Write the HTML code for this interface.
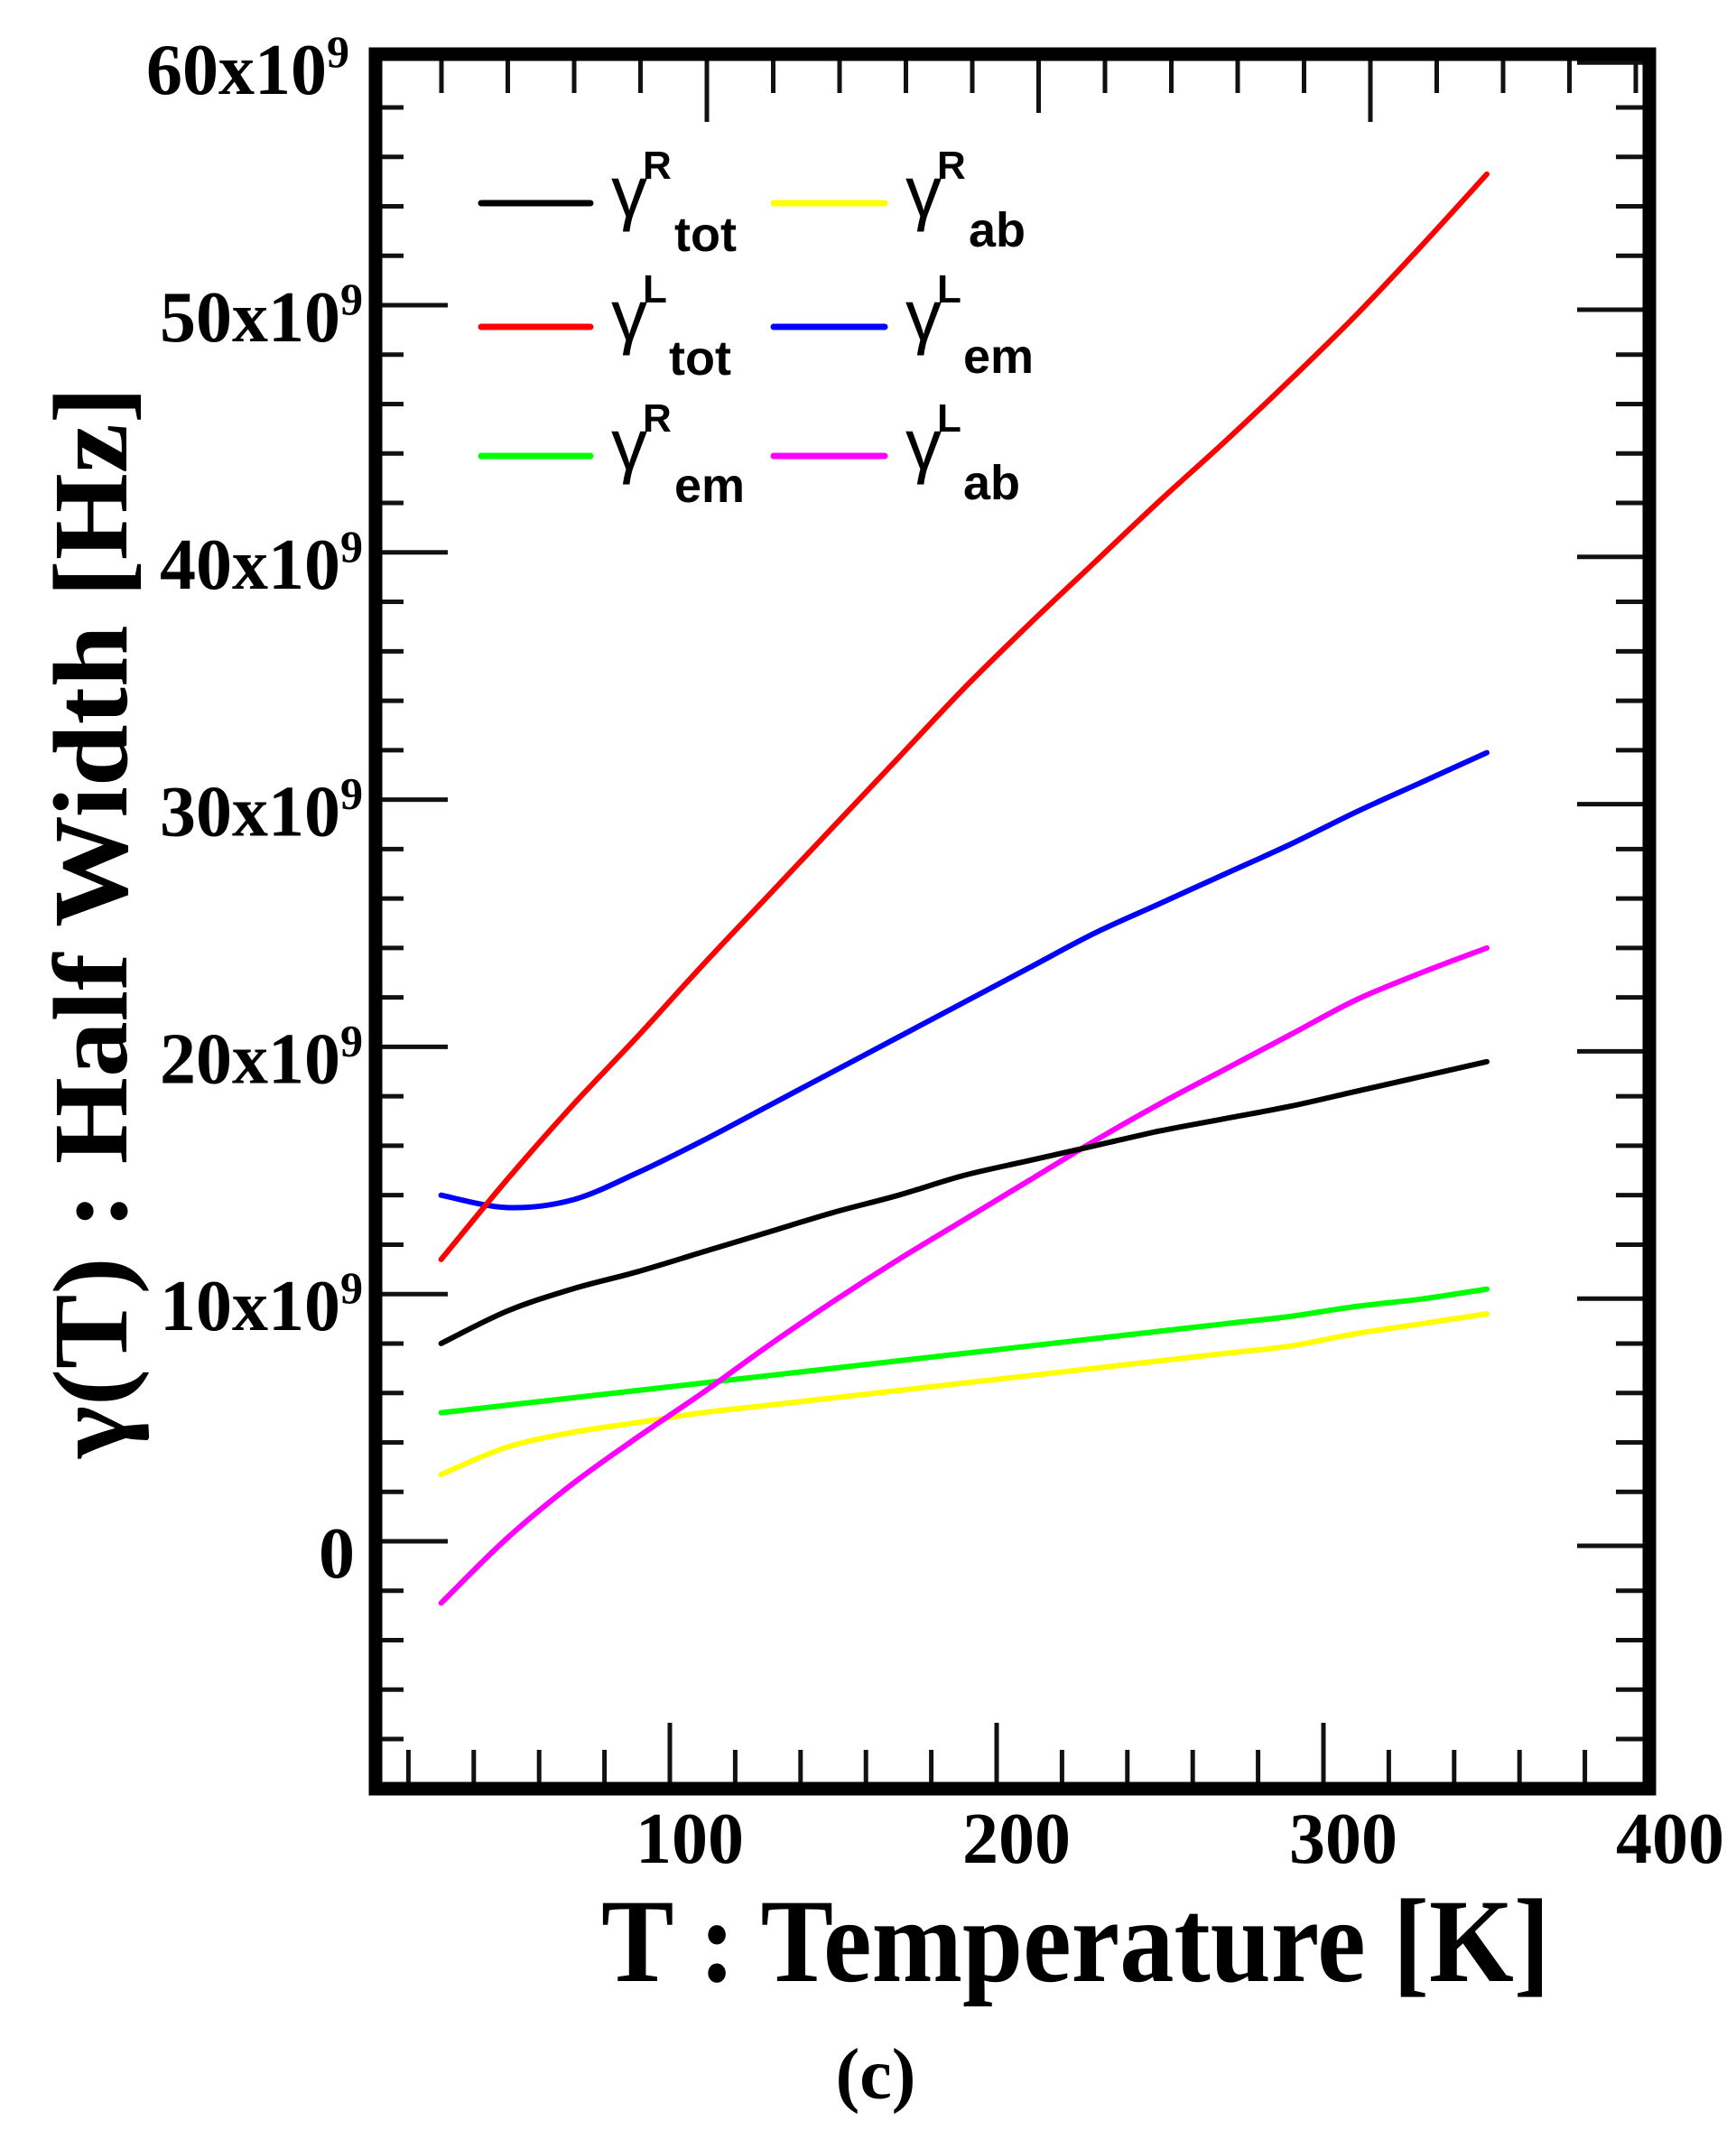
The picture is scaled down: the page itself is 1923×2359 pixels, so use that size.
<!DOCTYPE html>
<html><head><meta charset="utf-8"><style>
html,body{margin:0;padding:0;background:#fff;}
svg{display:block;}
.tl{font-family:"Liberation Serif",serif;font-weight:bold;font-size:80px;fill:#000;}
.lg{font-family:"Liberation Sans",sans-serif;font-weight:bold;fill:#000;}
.gm{font-family:"Liberation Sans",sans-serif;font-weight:normal;fill:#000;}
</style></head><body>
<svg id="chart" width="1923" height="2359" viewBox="0 0 1923 2359" xmlns="http://www.w3.org/2000/svg">
<g id="ticks" stroke="#111" stroke-width="5"></g>
<g id="frame" fill="none" stroke="#000" stroke-width="15">
<rect x="416" y="60" width="1411" height="1921"/>
</g>
<g id="ylabels"></g>
<g id="xlabels"></g>
<g id="series" fill="none" stroke-width="6" stroke-linejoin="round" stroke-linecap="round"></g>
<g>
 <line x1="533" y1="225" x2="654" y2="225" stroke="#000" stroke-width="7" stroke-linecap="round"/>
 <text class="gm" x="677" y="240" font-size="80">γ</text><text class="lg" x="712" y="198" font-size="44">R</text><text class="lg" x="747" y="278" font-size="54">tot</text>
 <line x1="857" y1="225" x2="980" y2="225" stroke="#ffff00" stroke-width="7" stroke-linecap="round"/>
 <text class="gm" x="1003" y="240" font-size="80">γ</text><text class="lg" x="1038" y="198" font-size="44">R</text><text class="lg" x="1073" y="273" font-size="54">ab</text>
 <line x1="533" y1="362" x2="654" y2="362" stroke="#ff0000" stroke-width="7" stroke-linecap="round"/>
 <text class="gm" x="677" y="377" font-size="80">γ</text><text class="lg" x="712" y="335" font-size="44">L</text><text class="lg" x="741" y="415" font-size="54">tot</text>
 <line x1="857" y1="362" x2="980" y2="362" stroke="#0000ff" stroke-width="7" stroke-linecap="round"/>
 <text class="gm" x="1003" y="377" font-size="80">γ</text><text class="lg" x="1038" y="335" font-size="44">L</text><text class="lg" x="1067" y="413" font-size="54">em</text>
 <line x1="533" y1="505" x2="654" y2="505" stroke="#00ff00" stroke-width="7" stroke-linecap="round"/>
 <text class="gm" x="677" y="520" font-size="80">γ</text><text class="lg" x="712" y="478" font-size="44">R</text><text class="lg" x="747" y="556" font-size="54">em</text>
 <line x1="857" y1="505" x2="980" y2="505" stroke="#ff00ff" stroke-width="7" stroke-linecap="round"/>
 <text class="gm" x="1003" y="520" font-size="80">γ</text><text class="lg" x="1038" y="478" font-size="44">L</text><text class="lg" x="1067" y="553" font-size="54">ab</text>
</g>
<text x="666" y="2194" font-family="Liberation Serif,serif" font-weight="bold" font-size="132" textLength="1051" lengthAdjust="spacingAndGlyphs">T : Temperature [K]</text>
<text transform="translate(140,1615) rotate(-90)" x="0" y="0" font-family="Liberation Serif,serif" font-weight="bold" font-size="118" textLength="1187" lengthAdjust="spacingAndGlyphs">γ(T) :  Half Width [Hz]</text>
<text x="970" y="2324" text-anchor="middle" font-family="Liberation Serif,serif" font-weight="bold" font-size="80">(c)</text>
</svg>
<script>
const temps=[30,50,70,90,110,130,150,170,190,210,230,250,270,290,310,330,350];
const gRtot=[8.0,9.3,10.2,10.9,11.7,12.5,13.3,14.0,14.8,15.4,16.0,16.6,17.1,17.6,18.2,18.8,19.4];
const gLtot=[11.4,14.6,17.6,20.4,23.3,26.1,28.9,31.7,34.5,37.1,39.6,42.1,44.5,47.0,49.6,52.4,55.3];
const gRem=[5.2,5.5,5.8,6.1,6.4,6.7,7.0,7.3,7.6,7.9,8.2,8.5,8.8,9.1,9.5,9.8,10.2];
const gRab=[2.7,3.8,4.4,4.8,5.2,5.5,5.8,6.1,6.4,6.7,7.0,7.3,7.6,7.9,8.4,8.8,9.2];
const gLem=[14.0,13.5,13.8,14.9,16.2,17.6,19.0,20.4,21.8,23.2,24.6,25.8,27.0,28.2,29.5,30.7,31.9];
const gLab=[-2.5,0.1,2.3,4.2,6.0,7.9,9.7,11.4,13.0,14.6,16.2,17.7,19.1,20.5,21.9,23.0,24.0];
const yTickValues=[0,10,20,30,40,50,60];
const yTickLabels=["0","10x10","20x10","30x10","40x10","50x10","60x10"];
const xTickValues=[100,200,300,400];
const xTickLabels=["100","200","300","400"];
const NS="http://www.w3.org/2000/svg";
const X=t=>380+3.62*t;
const Y=v=>1707-27.38*v;
function mk(tag,attrs,parent){const e=document.createElementNS(NS,tag);for(const k in attrs)e.setAttribute(k,attrs[k]);parent.appendChild(e);return e;}
const tk=document.getElementById('ticks');
for(let t=20;t<=380;t+=20){const major=t%100===0;
 const l=mk('line',{x1:X(t),x2:X(t),y1:major?1908:1938,y2:1981},tk);
 
 }
for(let i=0;i<19;i++){const x=489+73.5*i;const major=[4,9,14].includes(i);
 const l=mk('line',{x1:x,x2:x,y1:60,y2:major?(i===9?125:135):103},tk);
 
 }
for(let v=-10;v<=60;v+=2){const major=v%10===0;
 const a=mk('line',{x1:416,x2:major?496:447,y1:Y(v),y2:Y(v)},tk);
 
 
 const b=mk('line',{x1:major?1747:1790,x2:1827,y1:Y(v)+(major?5:0),y2:Y(v)+(major?5:0)},tk);
 
 }
const yl=document.getElementById('ylabels');
yTickValues.forEach((v,i)=>{
 const t=mk('text',{class:'tl',x:v===0?353:(v===60?162:177),y:Y(v)+40},yl);
 
 
 t.textContent=yTickLabels[i];
 if(v!==0){const s=mk('tspan',{dy:-30,'font-size':50},t);s.textContent='9';}
});
const xl=document.getElementById('xlabels');
xTickValues.forEach((v,i)=>{
 const t=mk('text',{class:'tl','text-anchor':'middle',x:X(v)+22,y:2063},xl);
 
 
 t.textContent=xTickLabels[i];
});
function path(vals){const p=temps.map((t,i)=>[X(t),Y(vals[i])]);let d=`M${p[0][0]},${p[0][1]}`;
 for(let i=0;i<p.length-1;i++){const p0=p[Math.max(0,i-1)],p1=p[i],p2=p[i+1],p3=p[Math.min(p.length-1,i+2)];
  d+=` C${p1[0]+(p2[0]-p0[0])/6},${p1[1]+(p2[1]-p0[1])/6} ${p2[0]-(p3[0]-p1[0])/6},${p2[1]-(p3[1]-p1[1])/6} ${p2[0]},${p2[1]}`;}
 return d;}
const sg=document.getElementById('series');
[[gRab,'#ffff00','line-gamma-r-ab'],[gRem,'#00ff00','line-gamma-r-em'],[gLab,'#ff00ff','line-gamma-l-ab'],[gRtot,'#000000','line-gamma-r-tot'],[gLem,'#0000ff','line-gamma-l-em'],[gLtot,'#ff0000','line-gamma-l-tot']].forEach(s=>{
 const e=mk('path',{d:path(s[0]),stroke:s[1]},sg);
 
 
});
</script>
</body></html>
